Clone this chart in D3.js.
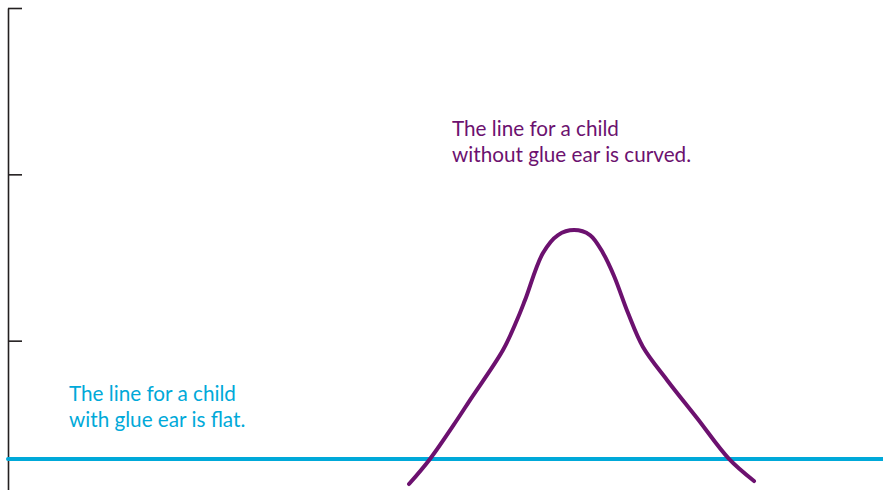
<!DOCTYPE html>
<html>
<head>
<meta charset="utf-8">
<script src="https://cdn.jsdelivr.net/npm/d3@7"></script>
<style>
  body { margin: 0; background: #fff; }
  svg { display: block; }
  .note { font-family: Lato, "Open Sans", sans-serif; font-size: 20.7px; }
</style>
</head>
<body>
<div id="chart"></div>
<script>
// --- Data
// y tick values on the unlabelled left axis
const yTicks = [1, 2, 3];

// child without glue ear: curved (x, y)
const curvedX = [45.83, 48.23, 51.31, 52.80, 56.57, 58.17, 59.09, 61.14, 62.86, 64.69,
  66.51, 68.00, 69.26, 70.86, 72.57, 75.31, 78.74, 82.40, 85.26];
const curvedY = [0.138, 0.289, 0.523, 0.643, 0.944, 1.124, 1.244, 1.527, 1.635, 1.665,
  1.635, 1.527, 1.389, 1.166, 0.962, 0.764, 0.535, 0.289, 0.156];

// child with glue ear: flat (x, y)
const flatX = [0, 100];
const flatY = [0.289, 0.289];

const labels = {
  curved: ["The line for a child", "without glue ear is curved."],
  flat: ["The line for a child", "with glue ear is flat."]
};

// --- Layout
const width = 883;
const height = 490;
const margin = { top: 8, left: 8, right: 0 };
const purple = "#6c116f";
const cyan = "#00a9d9";

const svg = d3.select("#chart")
  .append("svg")
  .attr("width", width)
  .attr("height", height)
  .attr("viewBox", [0, 0, width, height]);

const xScale = d3.scaleLinear()
  .domain([0, 100])
  .range([margin.left, width - margin.right]);

const yScale = d3.scaleLinear()
  .domain([0, 3])
  .range([507, margin.top]);

// left axis, ticks only
svg.append("g")
  .attr("transform", `translate(${margin.left}, 0)`)
  .call(d3.axisRight(yScale)
    .tickValues(yTicks)
    .tickSize(14)
    .tickSizeOuter(0)
    .tickFormat(""))
  .call(g => g.selectAll("path, line")
    .attr("stroke", "#231f20")
    .attr("stroke-width", 1.6));

const line = d3.line()
  .x(d => xScale(d[0]))
  .y(d => yScale(d[1]));

svg.append("path")
  .datum(flatX.map((x, i) => [x, flatY[i]]))
  .attr("fill", "none")
  .attr("stroke", cyan)
  .attr("stroke-width", 4)
  .attr("stroke-linecap", "round")
  .attr("d", line);

svg.append("path")
  .datum(curvedX.map((x, i) => [x, curvedY[i]]))
  .attr("fill", "none")
  .attr("stroke", purple)
  .attr("stroke-width", 4)
  .attr("stroke-linecap", "round")
  .attr("d", line.curve(d3.curveCatmullRom.alpha(0.5)));

// annotations
function note(lines, x, y, color) {
  svg.append("text")
    .attr("class", "note")
    .attr("fill", color)
    .selectAll("tspan")
    .data(lines)
    .join("tspan")
    .attr("x", x)
    .attr("y", (d, i) => y + i * 26)
    .text(d => d);
}

note(labels.curved, 452, 136, purple);
note(labels.flat, 69, 401, cyan);
</script>
</body>
</html>
